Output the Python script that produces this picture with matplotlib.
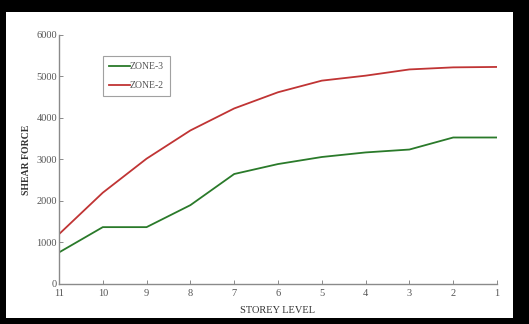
import matplotlib
matplotlib.use("Agg")
import matplotlib.pyplot as plt
from matplotlib.patches import Rectangle

# storey levels, top of building first
storeys = ["11", "10", "9", "8", "7", "6", "5", "4", "3", "2", "1"]
zone3 = [760, 1370, 1370, 1900, 2650, 2890, 3060, 3170, 3240, 3530, 3530]
zone2 = [1200, 2200, 3020, 3700, 4230, 4620, 4900, 5020, 5170, 5220, 5230]

plt.rcParams["font.family"] = ["Liberation Serif", "DejaVu Serif"]

fig = plt.figure(figsize=(5.29, 3.24), dpi=100, facecolor="black")
# white card inside the black border
fig.patches.append(Rectangle((0.011, 0.019), 0.959, 0.944, transform=fig.transFigure,
                             facecolor="white", edgecolor="none", zorder=-10))

ax = fig.add_axes([0.1115, 0.1235, 0.828, 0.7685])
ax.set_facecolor("white")
x = list(range(len(storeys)))
ax.plot(x, zone3, color="#2a7a2a", lw=1.3, label="ZONE-3")
ax.plot(x, zone2, color="#c03434", lw=1.3, label="ZONE-2")

ax.set_xlim(0, len(storeys) - 1)
ax.set_ylim(0, 6000)
ax.set_xticks(x)
ax.set_xticklabels(storeys)
ax.set_yticks(range(0, 6001, 1000))

for s in ["top", "right"]:
    ax.spines[s].set_visible(False)
for s in ["left", "bottom"]:
    ax.spines[s].set_color("#8a8a8a")
    ax.spines[s].set_linewidth(1.0)
ax.tick_params(direction="in", length=3, width=0.7, color="#8a8a8a",
               labelsize=7.5, labelcolor="#555555")
ax.tick_params(axis="x", pad=3.5)
ax.tick_params(axis="y", pad=1.5)

ax.set_xlabel("STOREY LEVEL", fontsize=7.5, color="#333333", labelpad=6)
ax.set_ylabel("SHEAR FORCE", fontsize=7, color="#333333", fontweight="bold", labelpad=4)

leg = ax.legend(loc="upper left", bbox_to_anchor=(0.10, 0.915), fontsize=7,
                frameon=True, fancybox=False, handlelength=2.2, borderpad=0.6,
                labelspacing=1.05, handletextpad=0.0, borderaxespad=0)
leg.get_frame().set_edgecolor("#8a8a8a")
leg.get_frame().set_linewidth(0.8)
for t in leg.get_texts():
    t.set_color("#555555")

fig.savefig("out.png", dpi=100, facecolor="black")
